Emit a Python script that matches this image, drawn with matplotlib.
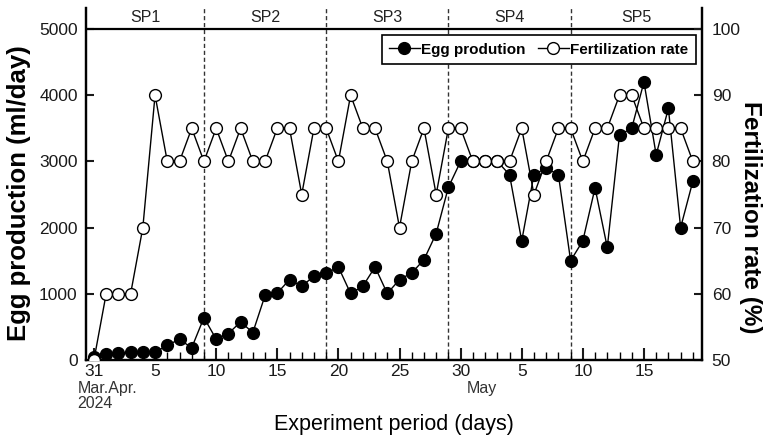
import matplotlib
matplotlib.use("Agg")
import matplotlib.pyplot as plt
from matplotlib.ticker import MultipleLocator, FixedLocator
from matplotlib.lines import Line2D

plt.rcParams['font.family'] = ['Liberation Sans', 'DejaVu Sans']

# day index: 0 = 31 Mar 2024, 1 = 1 Apr, ... 49 = 19 May
days = list(range(50))
egg = [50, 85, 100, 115, 115, 115, 225, 310, 185, 640,
       315, 400, 575, 415, 975, 1010, 1215, 1115, 1265, 1310,
       1405, 1005, 1115, 1405, 1005, 1215, 1315, 1515, 1910, 2610,
       3000, 3000, 3000, 3000, 2800, 1800, 2800, 2900, 2800, 1500,
       1800, 2600, 1700, 3400, 3500, 4200, 3100, 3800, 2000, 2700]
fert = [50, 60, 60, 60, 70, 90, 80, 80, 85, 80,
        85, 80, 85, 80, 80, 85, 85, 75, 85, 85,
        80, 90, 85, 85, 80, 70, 80, 85, 75, 85,
        85, 80, 80, 80, 80, 85, 75, 80, 85, 85,
        80, 85, 85, 90, 90, 85, 85, 85, 85, 80]

tick_pos = [0, 5, 10, 15, 20, 25, 30, 35, 40, 45]
tick_lab = ['31', '5', '10', '15', '20', '25', '30', '5', '10', '15']
sp_bounds = [9, 19, 29, 39]
sp_names = ['SP1', 'SP2', 'SP3', 'SP4', 'SP5']
sp_mid = [4.2, 14, 24, 34, 44.4]

x_lo, x_hi = -0.65, 49.75
top_frac = 331 / 352  # where 5000 / 100 sit in the axes

fig = plt.figure(figsize=(7.63, 4.38), dpi=100)
ax = fig.add_axes([86 / 763, 78 / 438, 616 / 763, 352 / 438])
ax2 = ax.twinx()

for b in sp_bounds:
    ax.axvline(b, color='#333333', ls=(0, (3, 2)), lw=1, zorder=1)
ax.axhline(5000, color='black', lw=1.6, zorder=2)
for m, name in zip(sp_mid, sp_names):
    ax.text(m, 5175, name, ha='center', va='center', fontsize=11.5, color='#222222')

ax.plot(days, egg, '-o', color='black', lw=1, ms=8.5, mfc='black', mec='black',
        mew=1, zorder=3)
ax2.plot(days, fert, '-o', color='black', lw=1, ms=8.5, mfc='white', mec='black',
         mew=1, zorder=3)

ax.set_xlim(x_lo, x_hi)
ax.set_ylim(0, 5000 / top_frac)
ax2.set_ylim(50, 50 + 50 / top_frac)
ax.set_yticks([0, 1000, 2000, 3000, 4000, 5000])
ax2.set_yticks([50, 60, 70, 80, 90, 100])

ax.xaxis.set_major_locator(FixedLocator(tick_pos))
ax.set_xticklabels(tick_lab)
ax.xaxis.set_minor_locator(MultipleLocator(1))

for a in (ax, ax2):
    a.spines['top'].set_visible(False)
    for s in ('left', 'right', 'bottom'):
        a.spines[s].set_linewidth(1.6)

ax.tick_params(axis='x', which='major', direction='in', length=9, width=1.5,
               labelsize=12.5, pad=3, colors='#1a1a1a')
ax.tick_params(axis='x', which='minor', direction='in', length=5.5, width=1)
ax.tick_params(axis='y', direction='in', length=6, width=1.5, labelsize=12.5,
               pad=6, colors='#1a1a1a')
ax2.tick_params(axis='y', direction='in', length=6, width=1.5, labelsize=12.5,
                pad=7, colors='#1a1a1a')

ax.set_xlabel('Experiment period (days)', fontsize=15.5, labelpad=25)
ax.set_ylabel('Egg production (ml/day)', fontsize=18.5, fontweight='bold',
              va='center')
ax.yaxis.set_label_coords(-0.109, 0.474)
ax2.set_ylabel('Fertilization rate (%)', fontsize=17.5, fontweight='bold',
               rotation=270, va='center')
ax2.yaxis.set_label_coords(1.079, 0.406)

ax.text(-1.35, -0.08, 'Mar.Apr.', transform=ax.get_xaxis_transform(),
        ha='left', va='center', fontsize=11.5, color='#333333')
ax.text(-1.35, -0.123, '2024', transform=ax.get_xaxis_transform(),
        ha='left', va='center', fontsize=11.5, color='#333333')
ax.text(31.7, -0.08, 'May', transform=ax.get_xaxis_transform(),
        ha='center', va='center', fontsize=11.5, color='#333333')

h1 = Line2D([], [], color='black', lw=1, marker='o', ms=8.5, mfc='black', mec='black')
h2 = Line2D([], [], color='black', lw=1, marker='o', ms=8.5, mfc='white', mec='black')
leg = ax2.legend([h1, h2], ['Egg prodution', 'Fertilization rate'], ncol=2,
                 loc='upper right', bbox_to_anchor=(0.99, 0.923), borderaxespad=0,
                 frameon=True, fancybox=False, edgecolor='black', framealpha=1,
                 handlelength=2.0, handletextpad=0.1, columnspacing=0.8,
                 borderpad=0.5, prop={'weight': 'bold', 'size': 11})
leg.get_frame().set_linewidth(1.2)

fig.savefig('out.png', dpi=100)
